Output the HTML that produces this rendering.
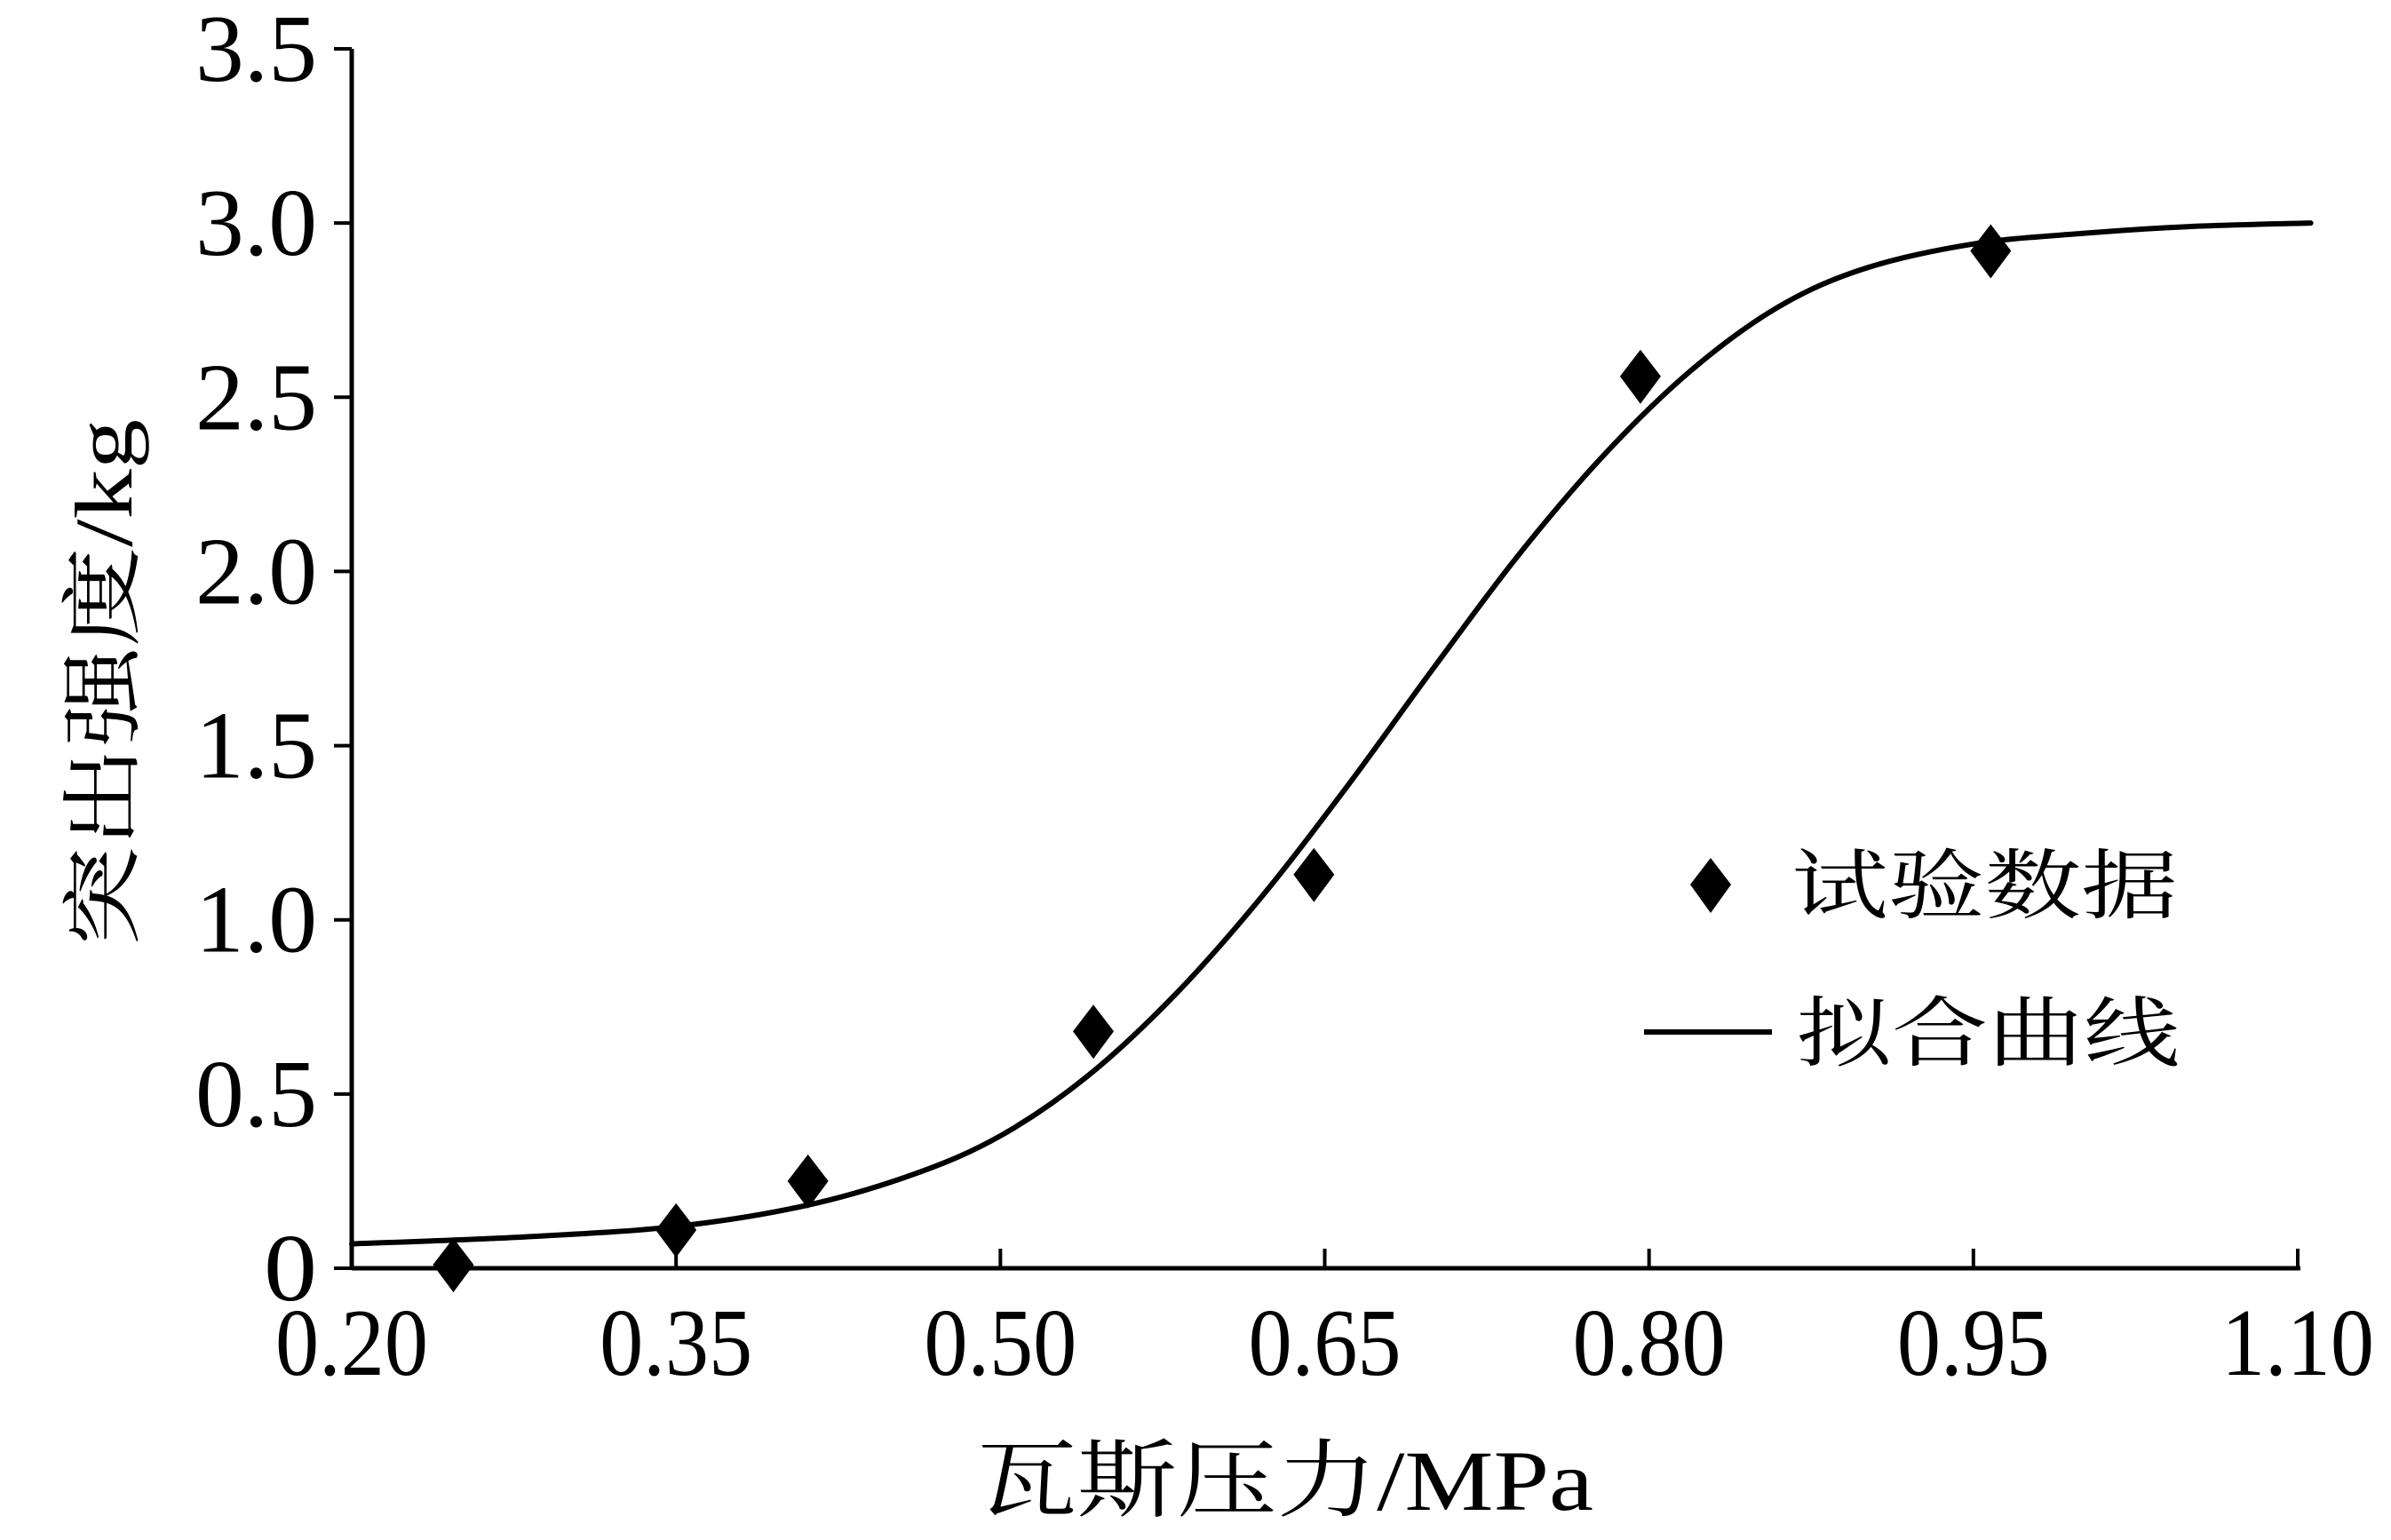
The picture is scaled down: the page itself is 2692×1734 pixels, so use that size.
<!DOCTYPE html>
<html><head><meta charset="utf-8"><style>
html,body{margin:0;padding:0;background:#fff;}
svg{display:block;}
text{font-family:"Liberation Serif","Noto Serif CJK SC",serif;fill:#000;}
</style></head><body>
<svg id="chart" width="2692" height="1734" viewBox="0 0 2692 1734" xmlns="http://www.w3.org/2000/svg">
<g id="axes"></g>
<g id="marks"></g>
<text x="1100" y="1700" font-size="96" textLength="694" lengthAdjust="spacingAndGlyphs">瓦斯压力/MPa</text>
<text transform="translate(148,1066) rotate(-90)" font-size="92" textLength="594" lengthAdjust="spacingAndGlyphs">突出强度/kg</text>
<g>
<path d="M1926 966 L1949 996 L1926 1028 L1903 996 Z" fill="#000"/>
<text x="2017" y="1027" font-size="86" textLength="435" lengthAdjust="spacingAndGlyphs">试验数据</text>
<line x1="1851" y1="1162" x2="1995" y2="1162" stroke="#000" stroke-width="6"/>
<text x="2022" y="1193" font-size="86" textLength="432" lengthAdjust="spacingAndGlyphs">拟合曲线</text>
</g>
</svg>
<script>
const xTicks = [0.20,0.35,0.50,0.65,0.80,0.95,1.10];
const xTickLabels = ["0.20","0.35","0.50","0.65","0.80","0.95","1.10"];
const yTicks = [0,0.5,1.0,1.5,2.0,2.5,3.0,3.5];
const yTickLabels = ["0","0.5","1.0","1.5","2.0","2.5","3.0","3.5"];
const dataX = [0.247,0.350,0.411,0.543,0.645,0.796,0.958];
const dataY = [0.01,0.11,0.25,0.68,1.13,2.56,2.92];
const fitX = [0.20,0.28,0.35,0.41,0.46,0.50,0.54,0.58,0.62,0.66,0.70,0.74,0.78,0.82,0.86,0.90,0.95,1.00,1.05,1.106];
const fitY = [0.07,0.09,0.12,0.18,0.27,0.38,0.55,0.78,1.06,1.38,1.72,2.05,2.34,2.58,2.76,2.87,2.94,2.97,2.99,3.00];

const X0=396,X1=2587,Y0=1428,Y1=55;
const sx=v=>X0+(v-0.20)/(1.10-0.20)*(X1-X0);
const sy=v=>Y0-(v/3.5)*(Y0-Y1);
const NS="http://www.w3.org/2000/svg";
const axes=document.getElementById('axes'), marks=document.getElementById('marks');
function mk(tag,attrs,parent){const e=document.createElementNS(NS,tag);for(const k in attrs)e.setAttribute(k,attrs[k]);parent.appendChild(e);return e;}

const xa=mk('line',{x1:X0,y1:Y0,x2:X1+3,y2:Y0,stroke:'#000','stroke-width':5},axes);


const ya=mk('line',{x1:X0,y1:Y0+2,x2:X0,y2:Y1,stroke:'#000','stroke-width':5},axes);



xTicks.forEach((v,i)=>{
  const t=mk('line',{x1:sx(v),y1:Y0,x2:sx(v),y2:Y0-22,stroke:'#000','stroke-width':4},axes);
  
  
  const l=mk('text',{x:sx(v)-86,y:1548,'font-size':108,textLength:172,lengthAdjust:'spacingAndGlyphs'},axes);
  l.textContent=xTickLabels[i];
  
  
});
yTicks.forEach((v,i)=>{
  const t=mk('line',{x1:X0,y1:sy(v),x2:X0-20,y2:sy(v),stroke:'#000','stroke-width':4},axes);
  
  
  const s=yTickLabels[i];
  const w=s.length===1?60:137;
  const l=mk('text',{x:357-w,y:sy(v)+36,'font-size':108,textLength:w,lengthAdjust:'spacingAndGlyphs'},axes);
  l.textContent=s;
  
  
});

const P=fitX.map((x,i)=>[sx(x),sy(fitY[i])]);
let d=`M${P[0][0]},${P[0][1]}`;
for(let i=0;i<P.length-1;i++){
  const p0=P[i-1]||P[i],p1=P[i],p2=P[i+1],p3=P[i+2]||P[i+1];
  const c1=[p1[0]+(p2[0]-p0[0])/6,p1[1]+(p2[1]-p0[1])/6];
  const c2=[p2[0]-(p3[0]-p1[0])/6,p2[1]-(p3[1]-p1[1])/6];
  d+=` C${c1[0]},${c1[1]} ${c2[0]},${c2[1]} ${p2[0]},${p2[1]}`;
}
const curve=mk('path',{d:d,fill:'none',stroke:'#000','stroke-width':6,'stroke-linecap':'round'},marks);



dataX.forEach((x,i)=>{
  const cx=sx(x),cy=sy(dataY[i]);
  const m=mk('path',{d:`M${cx} ${cy-30} L${cx+23} ${cy} L${cx} ${cy+31} L${cx-23} ${cy} Z`,fill:'#000'},marks);
  
  
});
</script>
</body></html>
